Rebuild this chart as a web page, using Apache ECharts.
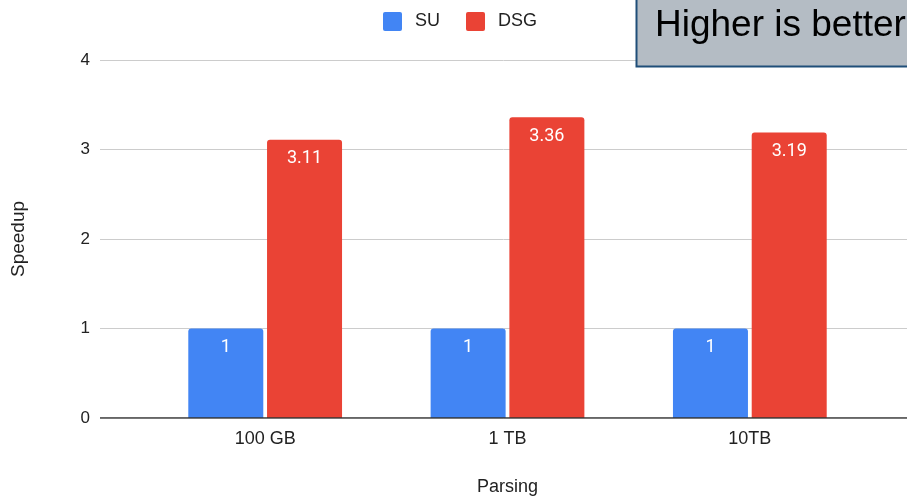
<!DOCTYPE html>
<html><head><meta charset="utf-8">
<script src="https://cdn.jsdelivr.net/npm/echarts@6/dist/echarts.min.js"></script>
<style>html,body{margin:0;padding:0;background:#fff}#c{width:907px;height:496px}</style>
</head><body><div id="c"></div>
<script>
const categories = ['100 GB', '1 TB', '10TB'];
const suValues = [1, 1, 1];
const dsgValues = [3.11, 3.36, 3.19];
const yTicks = [0, 1, 2, 3, 4];

const chart = echarts.init(document.getElementById('c'), null, {renderer: 'canvas'});
const font = '"Liberation Sans", Arial, sans-serif';
const labelStyle = {show: true, position: 'insideTop', distance: 10, color: '#fff', fontSize: 18, fontFamily: 'Roboto, sans-serif'};
chart.setOption({
  animation: false,
  textStyle: {fontFamily: font},
  legend: {
    top: 7, left: 378, itemWidth: 19, itemHeight: 19, itemGap: 26,
    icon: 'path://M2,0 L17,0 Q19,0 19,2 L19,17 Q19,19 17,19 L2,19 Q0,19 0,17 L0,2 Q0,0 2,0 Z',
    textStyle: {fontSize: 18, color: '#222', fontFamily: font, padding: [0, 0, 0, 8]},
    data: ['SU', 'DSG']
  },
  grid: [
    {left: 144, right: 36, top: 60, bottom: 78, outerBoundsMode: 'none', containLabel: false},
    {left: 100, right: 0, top: 60, bottom: 78, outerBoundsMode: 'none', containLabel: false}
  ],
  xAxis: [
    {type: 'category', gridIndex: 0, data: categories,
     axisLine: {show: false}, axisTick: {show: false},
     axisLabel: {fontSize: 18, color: '#222', margin: 12, fontFamily: font},
     name: 'Parsing', nameLocation: 'middle', nameGap: 60,
     nameTextStyle: {fontSize: 18, color: '#222', fontFamily: font}},
    {type: 'value', gridIndex: 1, min: 0, max: 1, show: false}
  ],
  yAxis: [
    {type: 'value', gridIndex: 0, min: 0, max: 4, interval: 1, show: false},
    {type: 'value', gridIndex: 1, min: yTicks[0], max: yTicks[yTicks.length-1], interval: 1,
     axisLine: {show: false}, axisTick: {show: false},
     axisLabel: {fontSize: 17, color: '#222', margin: 10, fontFamily: font},
     splitLine: {lineStyle: {color: '#cccccc', width: 1}},
     name: 'Speedup', nameLocation: 'middle', nameGap: 72,
     nameTextStyle: {fontSize: 19, color: '#222', fontFamily: font}}
  ],
  series: [
    {name: 'SU', type: 'bar', xAxisIndex: 0, yAxisIndex: 0, data: suValues,
     barWidth: 75, barGap: '5%', itemStyle: {color: '#4285F4', borderRadius: [3,3,0,0]},
     label: labelStyle, z: 3},
    {name: 'DSG', type: 'bar', xAxisIndex: 0, yAxisIndex: 0, data: dsgValues,
     barWidth: 75, barGap: '5%', itemStyle: {color: '#EA4335', borderRadius: [3,3,0,0]},
     label: labelStyle, z: 3},
    {type: 'line', xAxisIndex: 1, yAxisIndex: 1, data: [[0,0],[1,0]], symbol: 'none',
     lineStyle: {color: '#333', width: 1.6}, z: 4, silent: true}
  ],
  graphic: [
    {type: 'rect', shape: {x: 636.5, y: -10, width: 300, height: 76.5},
     style: {fill: '#b4bcc4', stroke: '#1f4e79', lineWidth: 2}, z: 100},
    {type: 'text', x: 655, y: 26, style: {text: 'Higher is better', fill: '#000', font: '37px "Liberation Sans", Arial, sans-serif', verticalAlign: 'middle'}, z: 101}
  ]
});
</script></body></html>
